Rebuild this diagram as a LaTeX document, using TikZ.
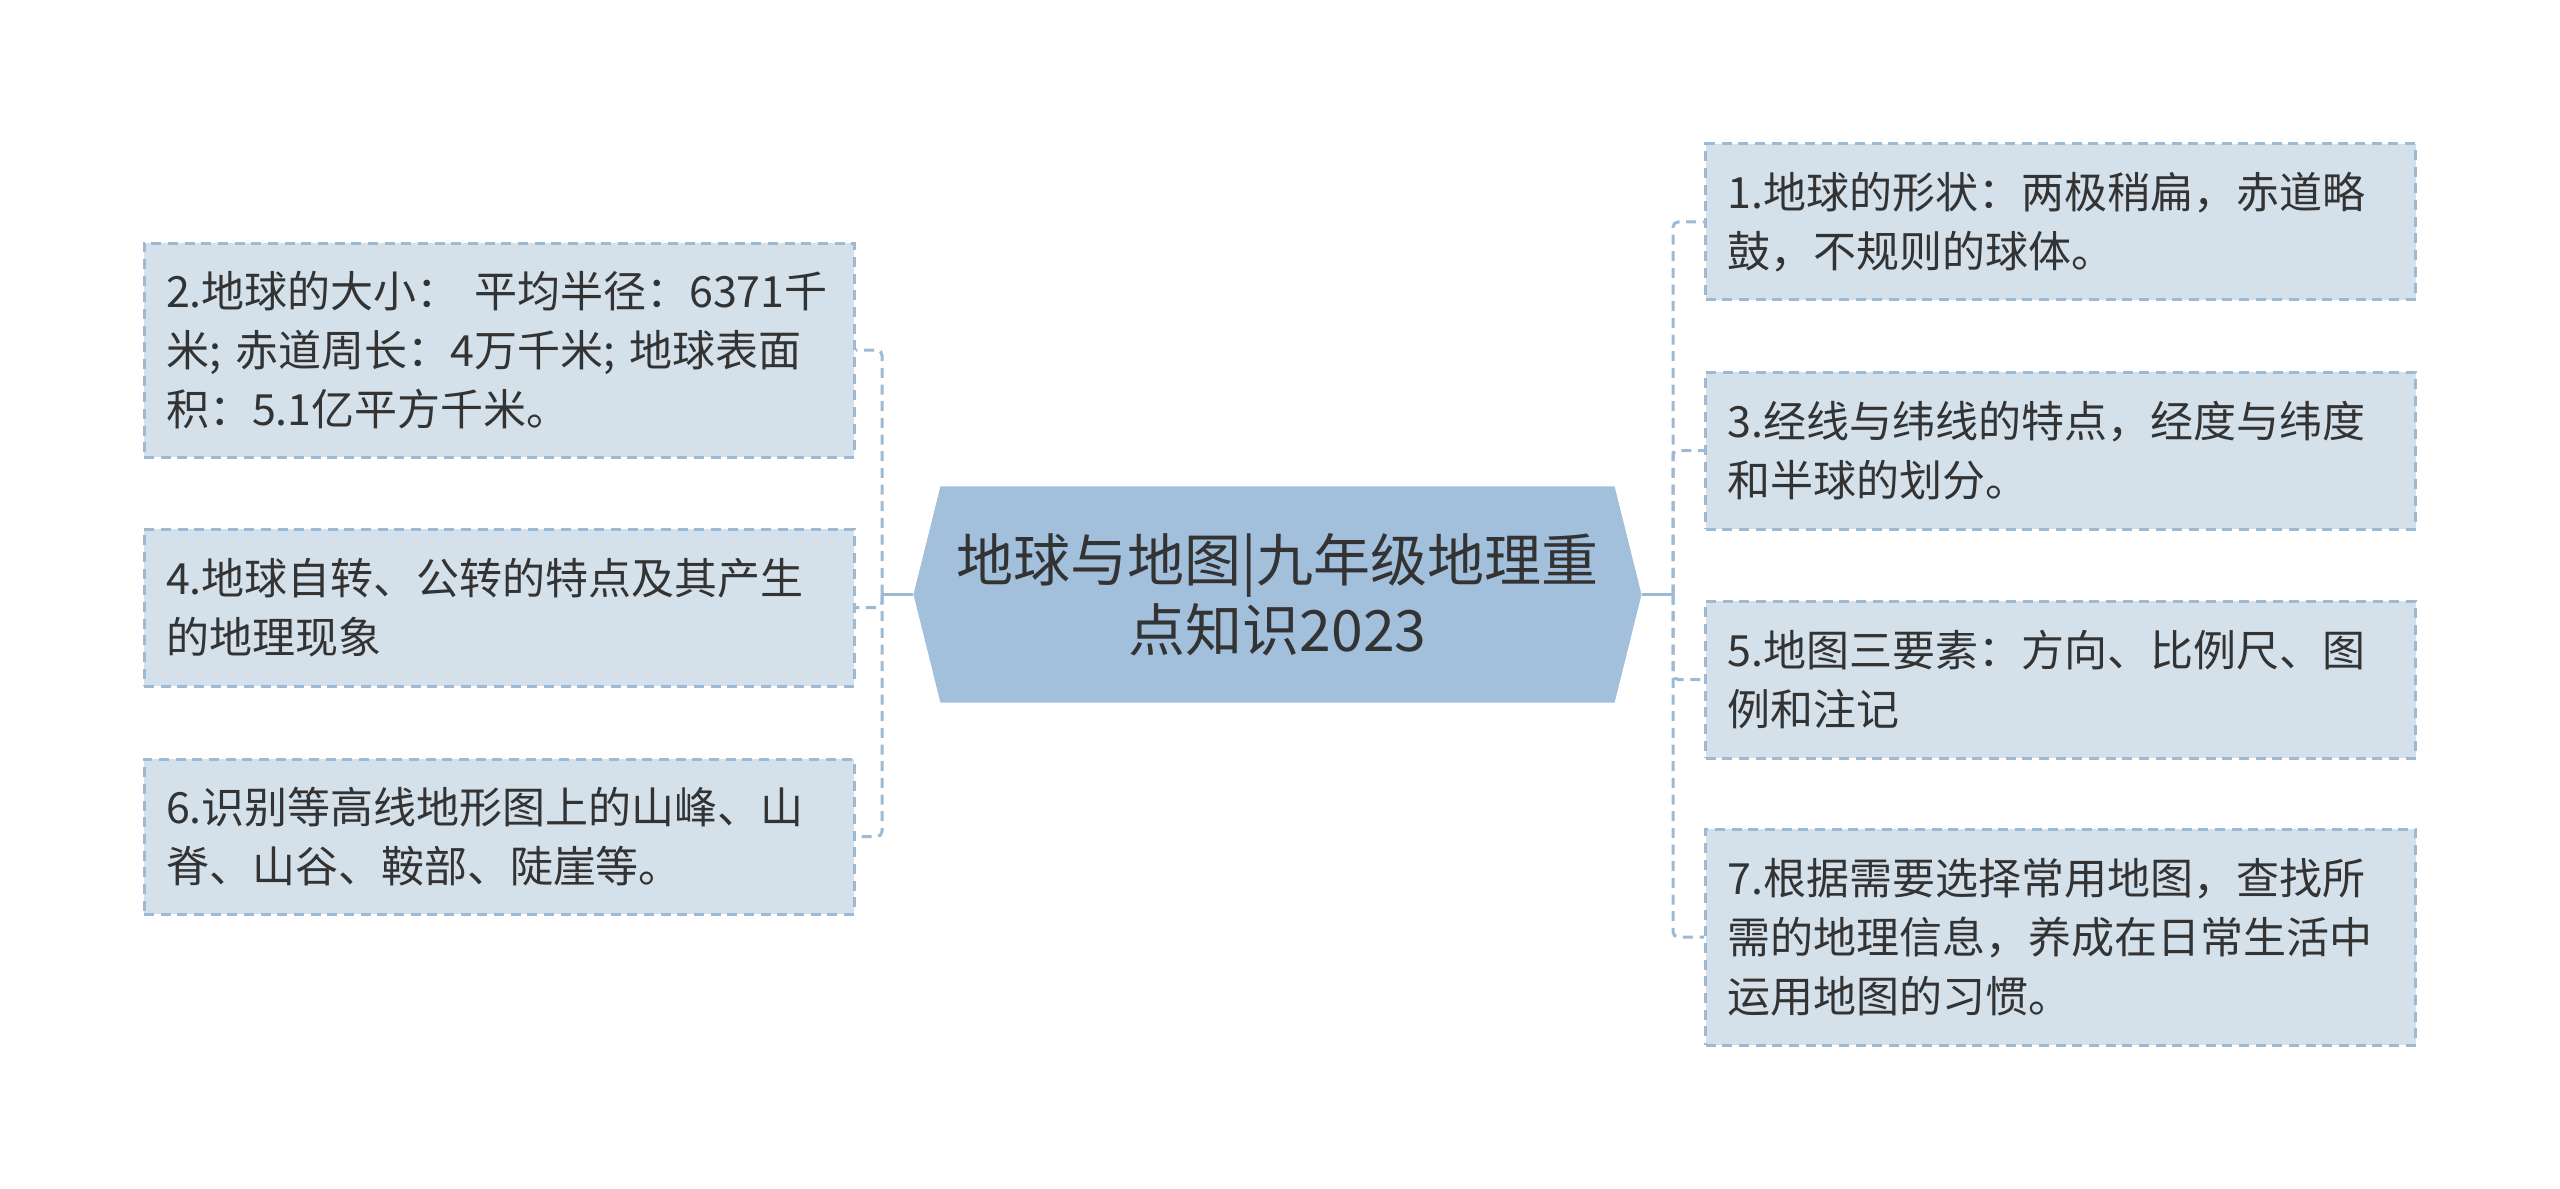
\documentclass[tikz,border=0pt]{standalone}
\usepackage{fontspec}
\setmainfont{Noto Sans CJK SC}
\usetikzlibrary{shapes.symbols}
\definecolor{boxfill}{HTML}{D5E1EA}
\definecolor{boxline}{HTML}{9DBAD5}
\definecolor{hubfill}{HTML}{A2BFDB}
\definecolor{ink}{HTML}{333333}
\begin{document}
\begin{tikzpicture}[x=0.3pt,y=-0.3pt,
	topic/.style={draw=boxline, fill=boxfill, line width=0.9pt, dash pattern=on 3pt off 2pt,
		text=ink, font=\fontsize{12.9pt}{17.7pt}\selectfont, align=left,
		text width=199.8pt, inner xsep=6.6pt, inner ysep=0pt, minimum width=213pt},
	hub/.style={signal, signal to=west and east, signal pointer angle=152, draw=hubfill, fill=hubfill,
		text=ink, font=\fontsize{17.1pt}{21pt}\selectfont, align=center,
		minimum width=218pt, minimum height=64.5pt, inner sep=0pt},
	branch/.style={draw=boxline, line width=0.9pt, dash pattern=on 3pt off 2pt, rounded corners=1.5pt}]
	\useasboundingbox (0,0) rectangle (2560,1189);
		\node[hub] (core) at (1277.5,594.5) {地球与地图|九年级地理重\\点知识2023};

		\node[topic, minimum height=64.2pt] (t2) at (499,350) {2.地球的大小：\ 平均半径：6371千\\米; 赤道周长：4万千米; 地球表面\\积：5.1亿平方千米。};
		\node[topic, minimum height=47.1pt] (t4) at (499,607.5) {4.地球自转、公转的特点及其产生\\的地理现象};
		\node[topic, minimum height=46.5pt] (t6) at (499,836.5) {6.识别等高线地形图上的山峰、山\\脊、山谷、鞍部、陡崖等。};

		\node[topic, minimum height=46.8pt] (t1) at (2060.5,222) {1.地球的形状：两极稍扁，赤道略\\鼓，不规则的球体。};
		\node[topic, minimum height=47.1pt] (t3) at (2060.5,450.5) {3.经线与纬线的特点，经度与纬度\\和半球的划分。};
		\node[topic, minimum height=47.1pt] (t5) at (2060.5,679.5) {5.地图三要素：方向、比例尺、图\\例和注记};
		\node[topic, minimum height=64.8pt] (t7) at (2060.5,937) {7.根据需要选择常用地图，查找所\\需的地理信息，养成在日常生活中\\运用地图的习惯。};

	\draw[boxline, line width=0.9pt] (core.west) -- (882,594.5) coordinate (lj);
	\draw[boxline, line width=0.9pt] (core.east) -- (1673,594.5) coordinate (rj);
	\foreach \t in {t2,t4,t6}
		\draw[branch] (lj) |- (\t.east);
	\foreach \t in {t1,t3,t5,t7}
		\draw[branch] (rj) |- (\t.west);
\end{tikzpicture}
\end{document}
